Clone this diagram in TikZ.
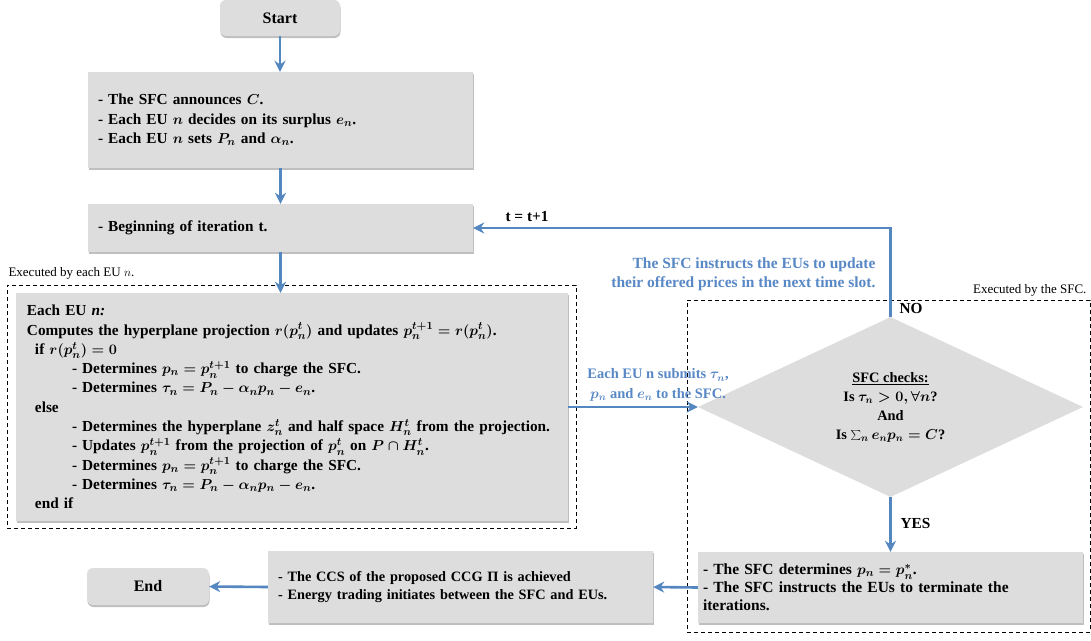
\documentclass[tikz,border=0pt]{standalone}
\usepackage{fontspec}
\setmainfont{Liberation Serif}
\usetikzlibrary{arrows.meta,shapes.geometric,shadows}
\definecolor{boxgray}{RGB}{221,221,221}
\definecolor{arrowblue}{RGB}{84,134,192}
\definecolor{textblue}{RGB}{88,136,198}
\begin{document}
\begin{tikzpicture}[x=1pt,y=-1pt,
  every node/.style={font=\fontsize{15.3}{19.6}\selectfont\bfseries\boldmath},
  box/.style={fill=boxgray, draw=none, inner ysep=0pt,
    drop shadow={shadow xshift=0.5pt,shadow yshift=-2pt,fill=black!50,opacity=0.5}},
  rbox/.style={box, rounded corners=6pt},
  flow/.style={draw=arrowblue, line width=2.6pt, -{Stealth[length=11pt,width=11pt]}},
  grp/.style={draw=black, line width=1pt, dash pattern=on 4pt off 3pt, fill=none},
  bluelab/.style={text=textblue},
  note/.style={font=\fontsize{13}{16}\selectfont}
]
\fill[white] (0,0) rectangle (1091,640);
\useasboundingbox (0,0) rectangle (1091,640);

% groups
\node[grp, minimum width=569, minimum height=243] (eugrp) at (291.5,406.5) {};
\node[grp, minimum width=403, minimum height=332] (sfcgrp) at (888.5,466) {};
\node[note, anchor=west] (eulab) at (5,273) {Executed by each EU $n$.};
\node[note, anchor=east] (sfclab) at (1090,290) {Executed by the SFC.};

% boxes
\node[rbox, minimum width=120, minimum height=36, font=\fontsize{16}{19}\selectfont\bfseries] (start) at (280,18) {Start};
\node[box, minimum width=385, minimum height=96, text width=365, inner xsep=10pt, align=left] (init) at (280.5,120)
  {- The SFC announces $C$.\\
   - Each EU $n$ decides on its surplus $e_n$.\\
   - Each EU $n$ sets $P_n$ and $\alpha_n$.};
\node[box, minimum width=385, minimum height=48, text width=365, inner xsep=10pt, align=left] (iter) at (280.5,228)
  {- Beginning of iteration t.};
\node[box, minimum width=552, minimum height=228, text width=530, inner xsep=11pt, align=left,
  font=\fontsize{15.3}{19.3}\selectfont\bfseries\boldmath] (eu) at (292,407)
  {Each EU \textit{n:}\\
   Computes the hyperplane projection $r(p_n^t)$ and updates $p_n^{t+1}=r(p_n^t)$.\\
   \hspace*{8pt}if $r(p_n^t)=0$\\
   \hspace*{45pt}- Determines $p_n=p_n^{t+1}$ to charge the SFC.\\
   \hspace*{45pt}- Determines $\tau_n=P_n-\alpha_n p_n-e_n$.\\
   \hspace*{8pt}else\\
   \hspace*{45pt}- Determines the hyperplane $z_n^t$ and half space $H_n^t$ from the projection.\\
   \hspace*{45pt}- Updates $p_n^{t+1}$ from the projection of $p_n^t$ on $P\cap H_n^t$.\\
   \hspace*{45pt}- Determines $p_n=p_n^{t+1}$ to charge the SFC.\\
   \hspace*{45pt}- Determines $\tau_n=P_n-\alpha_n p_n-e_n$.\\
   \hspace*{8pt}end if};
\node[diamond, fill=boxgray, minimum width=385, minimum height=180, inner sep=0pt, align=center,
  font=\fontsize{14.4}{19}\selectfont\bfseries\boldmath] (chk) at (890.5,407)
  {\underline{SFC checks:}\\ Is $\tau_n>0,\forall n$?\\ And\\ Is $\sum_n e_n p_n=C$?};
\node[box, minimum width=385, minimum height=71, text width=375, inner xsep=5pt, align=left,
  font=\fontsize{15.5}{18}\selectfont\bfseries\boldmath] (res) at (890.5,587.5)
  {- The SFC determines $p_n=p_n^{*}$.\\
   - The SFC instructs the EUs to terminate the\\
   iterations.};
\node[box, minimum width=385, minimum height=72, text width=365, inner xsep=10pt, align=left,
  font=\fontsize{14.3}{18.5}\selectfont\bfseries\boldmath] (ccs) at (460.5,587)
  {- The CCS of the proposed CCG Π is achieved\\
   - Energy trading initiates between the SFC and EUs.};
\node[rbox, minimum width=122, minimum height=37, font=\fontsize{16}{19}\selectfont\bfseries] (end) at (148,586.5) {End};

% connectors
\draw[flow] (start.south) -- (start.south |- init.north);
\draw[flow] (init.south) -- (iter.north);
\draw[flow] (iter.south) -- (iter.south |- eu.north);
\draw[flow] (eu.east) -- (chk.west);
\draw[flow] (chk.north) |- (iter.east);
\draw[flow] (chk.south) -- (res.north);
\draw[flow] (res.west) -- (ccs.east);
\draw[flow] (ccs.west) -- (end.east);

% labels
\node (tlab) at (527,217) {t = t+1};
\node[anchor=west] (nolab) at (896,309) {NO};
\node[anchor=west] (yeslab) at (897,523) {YES};
\node[bluelab, align=center, font=\fontsize{14.5}{19.5}\selectfont\bfseries\boldmath] (sublab) at (658,385) {Each EU n submits $\tau_n$,\\ $p_n$ and $e_n$ to the SFC.};
\node[bluelab, align=right, anchor=east, font=\fontsize{15.5}{19}\selectfont\bfseries\boldmath] (updlab) at (879,274.5) {The SFC instructs the EUs to update\\ their offered prices in the next time slot.};
\end{tikzpicture}
\end{document}
